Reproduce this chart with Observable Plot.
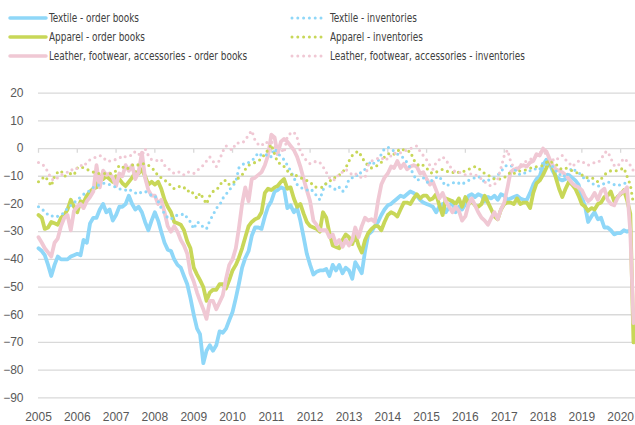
<!DOCTYPE html>
<html><head><meta charset="utf-8">
<script src="https://cdn.jsdelivr.net/npm/d3@7"></script>
<script src="https://cdn.jsdelivr.net/npm/@observablehq/plot@0.6"></script>
<style>
body{margin:0;background:#fff;}
#wrap{width:635px;height:425px;position:relative;overflow:hidden;}
#legend{position:relative;height:70px;font-family:"DejaVu Sans Condensed","DejaVu Sans",sans-serif;}
.item{position:absolute;height:16px;line-height:16px;font-size:12.7px;color:#404040;white-space:nowrap;}
.item svg{position:absolute;top:0;}
.item span{position:absolute;top:0;display:inline-block;transform:scaleX(0.78);transform-origin:0 50%;}
</style></head><body><div id="wrap"><div id="legend"></div><div id="chart"></div></div>
<script>
// Monthly data, Jan 2005 - May 2020
const startYear = 2005;
const textileOrders = [
-36,-37,-38.5,-42,-46,-42,-39,-40,-40,-40,-39,-38.5,
-38,-38.5,-33,-34,-27,-25,-25,-22,-20,-23,-22,-26,
-24,-21,-21,-20,-17,-20,-22,-21,-23,-26.5,-29.5,-26,
-23,-26,-30,-34,-36.5,-37,-40,-42,-43,-46,-49,-54,
-60,-65,-67,-77.5,-73,-71,-73,-71,-66,-66.5,-65,-62,
-59,-54,-49,-43,-39.5,-37,-31.5,-28.5,-28.5,-29,-24.5,-21,
-19,-15.5,-15,-14,-14.5,-21.5,-20.5,-23,-21.5,-26,-32,-38,
-42,-45.5,-44.5,-44,-44,-43.5,-46,-42,-44,-42,-45,-43,
-44,-47,-41,-43,-45,-37,-31,-30,-28,-26.5,-24,-22,
-20.5,-20,-19,-18,-17,-17.5,-16.5,-15.5,-16,-17,-18.5,-19.5,
-20,-20.5,-21,-23,-21,-20,-23,-21,-19,-23,-21,-22,
-20,-17,-16.5,-17.5,-16.5,-17,-19,-17.5,-18,-17,-18.5,-16.5,
-17,-18.5,-18,-17.5,-17,-18,-18.5,-18.5,-16,-13,-11,-10,
-6,-4,-5,-8,-10,-11,-11.5,-11,-9.5,-10.5,-11.5,-13,
-17.5,-21,-26.5,-24.5,-23,-25.5,-25,-28.5,-28.5,-29.5,-31,-30.5,
-30.5,-29.5,-30,-29.5,null];
const apparelOrders = [
-24,-25,-29,-28.5,-26.5,-27,-27.5,-25,-24,-22,-18.5,-21,
-23,-19,-19.5,-17,-15.5,-14.5,-14,-10,-11,-10,-11,-12,
-10,-11,-12.5,-13.5,-12,-10.5,-8.5,-9,-7.5,-10,-13,-12,
-13,-12,-14.5,-18.5,-21,-23,-26.5,-27,-27.5,-29.5,-33.5,-36,
-43,-45.5,-47.5,-50,-55,-52,-51,-51,-49,-49,-50.5,-47.5,
-44,-42,-39.5,-36,-32,-28,-26.5,-25.5,-25,-23,-16,-14.5,
-15,-14,-13.5,-12,-11,-14.5,-14,-18,-21,-20,-23.5,-26.5,
-28,-28.5,-29,-30,-23,-25,-30.5,-35,-35.5,-36,-33,-31,
-32,-34.5,-31,-35,-37.5,-33,-30.5,-29,-28,-28,-29.5,-26.5,
-24,-23,-23.5,-24.5,-22,-19.5,-19.5,-20,-18,-16.5,-18,-17,
-17,-18.5,-18,-16.5,-20.5,-24,-18,-18.5,-19,-20,-18,-21,
-17.5,-20,-19,-20.5,-21,-20,-17,-19.5,-22,-24.5,-25.5,-22,
-20,-19.5,-19.5,-20,-18,-20,-19.5,-19.5,-21.5,-16,-12.5,-11.5,
-9.5,-7,-4.5,-6.5,-10.5,-14.5,-17.5,-14.5,-12,-13,-14.5,-17,
-20,-21,-22.5,-21.5,-22,-20,-19.5,-17.5,-17,-15.5,-19,-17.5,
-16.5,-15,-18.5,-23.5,-70];
const leatherOrders = [
-32,-34,-36,-37.5,-39,-34,-32.5,-28,-25,-24,-29.5,-22.5,
-21,-20,-21.5,-19,-17.5,-15.5,-6,-14,-8,-9.5,-9,-10.5,
-13.5,-9,-10,-6,-8,-6,-11,-8.5,-1.5,-10.5,-15,-17,
-17,-20,-18.5,-23,-28,-30,-28,-30,-33,-35,-38,-45,
-48,-52,-55,-58,-61.5,-55,-55,-58,-55.5,-53,-47,-42,
-40,-36,-29,-20,-14,-19,-11,-10.5,-9.5,-8.5,-6,-2.5,
5,4,-2,2.5,3.5,2.5,1,-0.5,-3,-6.5,-11,-15,
-19,-26,-27.5,-29.5,-29.5,-29.5,-32,-31,-34.5,-33,-35.5,-33,
-35,-33,-28.5,-32,-28,-25,-26,-25.5,-26.5,-19,-13,-10.5,
-9,-6.5,-7,-4.5,-7,-5.5,-7.5,-6.5,-6,-6.5,-9,-8.5,
-11,-13,-12,-15,-18,-16,-19,-21,-23,-21,-22.5,-26,
-24.5,-20,-18,-20.5,-23,-25,-26,-27.5,-25,-23,-25.5,-22,
-19.5,-14,-8.5,-7.5,-7.5,-6.5,-6,-6.5,-5,-4.5,-2,-2.5,
0,-1,-3.5,-6,-7.5,-8,-8.5,-9.5,-11,-12.5,-13.5,-14,
-15,-17.5,-19,-18,-16,-18.5,-15.5,-14.5,-18.5,-20,-20.5,-18,
-16,-15.5,-14,-30,-63];
const textileInventories = [
-21,-22,-22.5,-24,-24.5,-24,-24.5,-24,-23,-21.5,-20.5,-19.5,
-18.5,-17.5,-16.5,-16,-15,-14,-13.5,-13,-12.5,-12.5,-13,-13.5,
-14,-14.5,-15,-15,-14.5,-15.5,-16,-16.5,-15.5,-15.5,-16,-17,
-17,-19,-21.5,-23.5,-25,-25.5,-24.5,-24,-24,-23.5,-25,-26.5,
-29,-26.5,-27,-28.5,-29,-26,-24,-21.5,-20.5,-18,-16.5,-15,
-13.5,-12,-7,-6,-5,-5,-4.5,-3,-1.5,-2.5,-2.5,-2,
-3,0,-1.5,-3,-4,-6,-8,-10.5,-13,-14,-14.5,-15,
-14.5,-15.5,-17,-18.5,-15,-12.5,-13.5,-14,-15,-14,-15.5,-14.5,
-11,-10.5,-9.5,-10,-8,-7.5,-4.5,-6,-5,-4.5,-2,0,
0.5,0,-1,-2,-2.5,-3.5,-5,-7,-9.5,-11.5,-11,-10.5,
-12,-12.5,-11,-10.5,-10,-12,-13.5,-13,-12.5,-12,-12.5,-13,
-12,-11.5,-11,-10.5,-10,-11,-12,-11.5,-11,-10.5,-9.5,-8.5,
-6.5,-6,-6,-7,-8.5,-9.5,-9,-8.5,-8,-8,-7,-7.5,
-5,-5.5,-6,-6.5,-8,-9.5,-9,-10.5,-8.5,-7,-8,-8.5,
-10,-11,-11.5,-12.5,-13,-13.5,-13.5,-12.5,-12,-12.5,-13,-13.5,
-13,-12.5,-12.5,-13,null];
const apparelInventories = [
-12,-11,-10,-11.5,-13.5,-10,-8.5,-8,-10,-9.5,-9,-9.5,
-7,-6.5,-7,-7.5,-8,-8.5,-9,-9,-9,-9,-9,-9,
-8,-6,-6.5,-7.5,-7,-6,-5.5,-6,-5.5,-5.5,-6,-7,
-8,-10,-10.5,-11.5,-12,-13.5,-14.5,-14,-13.5,-14,-15.5,-15,
-16.5,-18,-16,-18,-20,-17,-15.5,-15,-13.5,-11.5,-11.5,-13,
-12.5,-11.5,-10.5,-9.5,-7.5,-6,-5.5,-5,-4.5,-3.5,-2,-0.5,
1.5,-2,-5,-5.5,-6.5,-8,-9.5,-9,-10,-10.5,-11,-11.5,
-12,-13.5,-14,-14,-14,-12.5,-12,-10.5,-10.5,-9.5,-8.5,-7,
-4.5,-2.5,-1.5,-1,-3,-5,-6,-7,-6.5,-6,-5,-3,
-2,-1.5,-2,-1,0,-0.5,-1,-1,-4,-5.5,-6.5,-6,
-7,-8.5,-9,-8.5,-8,-7.5,-8,-8.5,-8.5,-9,-8.5,-8.5,
-8,-7.5,-7,-6.5,-7,-8,-9,-9.5,-10.5,-11,-11,-11,
-10.5,-9.5,-8.5,-9,-8.5,-8,-8,-7.5,-7,-7,-6.5,-6.5,
-6,-5,-4.5,-5,-5.5,-7,-7.5,-7,-7.5,-8,-8.5,-9,
-9.5,-10.5,-10.5,-10.5,-11,-12,-11,-9.5,-8.5,-8,-8,-8,
-7.5,-7,-10,-13,-20];
const leatherInventories = [
-5,-5.5,-6.5,-8.5,-11,-11.5,-10.5,-9.5,-9,-8.5,-7.5,-8,
-7,-6,-6.5,-5,-4,-3.5,-3,-2.5,-3,-4.5,-4.5,-4,
-4,-3.5,-2.5,-3,-2.5,-2.5,-1,-2,-2.5,0,-2.5,-4,
-4,-4.5,-4,-6,-7,-8,-9,-8.5,-8.5,-9.5,-8.5,-8.5,
-9,-8,-7,-6,-4.5,-3,-4.5,-6.5,-4,-1,1,0,
-0.5,2,2,2,3,5,6.5,3,1.5,1,2.5,2,
2.5,1,-1,0,-1.5,4.5,5.5,6,4,-1,-3,-4.5,
-5.5,-5,-4.5,-5,-6.5,-8.5,-10.5,-11.5,-11,-9,-8.5,-7.5,
-8.5,-9.5,-9,-10,-10.5,-10.5,-6,-4.5,-4,-3.5,-4,-3,
-4,-2.5,-1.5,-2,-1.5,-1,-0.5,0,0.5,1,-1,-2.5,
-4,-6,-7.5,-5,-4,-3,-4,-6,-7.5,-8.5,-8.5,-9,
-9.5,-9.5,-9,-9.5,-10,-11,-12,-13,-13.5,-13,-11,-7,
-2.5,-0.5,-4.5,-7,-7,-6,-5,-4.5,-4,-3,-2.5,-1.5,
-1,-2,-4,-4,-4.5,-3,-2.5,-4,-5,-6.5,-5.5,-4.5,
-4.5,-5.5,-6,-5.5,-5,-5,-4,-1.5,-1,-3.5,-6,-6.5,
-5,-3.5,-4.5,-6,-8];

const seriesNames = [
  "Textile - order books", "Apparel - order books", "Leather, footwear, accessories - order books",
  "Textile - inventories", "Apparel - inventories", "Leather, footwear, accessories - inventories"];
const seriesValues = [textileOrders, apparelOrders, leatherOrders, textileInventories, apparelInventories, leatherInventories];
const seriesColors = ["#8fd7f8", "#c8d758", "#f0c8d4", "#8fd7f8", "#c8d758", "#f0c8d4"];
const seriesDotted = [false, false, false, true, true, true];
const yTickValues = [20, 10, 0, -10, -20, -30, -40, -50, -60, -70, -80, -90];
const yearTicks = [2005,2006,2007,2008,2009,2010,2011,2012,2013,2014,2015,2016,2017,2018,2019,2020];

const yearDates = yearTicks.map(y => new Date(Date.UTC(y, 0, 1)));
const rows = seriesValues.map((vals, s) => vals.map((v, i) => ({
  series: seriesNames[s], date: new Date(Date.UTC(startYear, i, 1)), value: v
})).filter(d => d.value != null));

// Legend
const legend = document.getElementById("legend");
const leftX = 8, rightX = 289, rowY = [10, 29, 48];
seriesNames.forEach((name, s) => {
  const col = s < 3 ? 0 : 1, row = s % 3;
  const div = document.createElement("div");
  div.className = "item";
  div.style.left = (col ? rightX : leftX) + "px";
  div.style.top = rowY[row] + "px";
  let sw;
  if (!seriesDotted[s]) {
    sw = `<svg width="40" height="16"><line x1="2" x2="38" y1="8" y2="8" stroke="${seriesColors[s]}" stroke-width="3.5" stroke-linecap="round"/></svg>`;
  } else {
    sw = `<svg width="40" height="16"><line x1="3" x2="37" y1="8" y2="8" stroke="${seriesColors[s]}" stroke-width="3" stroke-linecap="round" stroke-dasharray="0,5.8"/></svg>`;
  }
  div.innerHTML = sw + `<span style="left:41px">${name}</span>`;
  legend.appendChild(div);
});

const font = "'Liberation Sans', Arial, sans-serif";
const marks = [
  Plot.ruleY(yTickValues, {y: d => d, stroke: "#d9d9d9", strokeWidth: 1.3}),
  Plot.ruleX(yearDates, {x: d => d, y1: 0, y2: -1.7, stroke: "#d9d9d9", strokeWidth: 1.3}),
  Plot.axisY({ticks: yTickValues, tickSize: 0, tickPadding: 15, label: null, fontSize: 12}),
  Plot.axisX({ticks: yearDates, tickFormat: d3.utcFormat("%Y"), tickSize: 0, tickPadding: 15, label: null, fontSize: 12})
];
[0, 1, 2, 3, 4, 5].forEach(s => {
  if (seriesDotted[s]) {
    marks.push(Plot.line(rows[s], {x: "date", y: "value", stroke: seriesColors[s], strokeWidth: 3.1,
      strokeDasharray: "0,5.8", strokeLinecap: "round"}));
  } else {
    marks.push(Plot.line(rows[s], {x: "date", y: "value", stroke: seriesColors[s], strokeWidth: 3.8}));
  }
});

const chart = Plot.plot({
  width: 635, height: 355,
  marginLeft: 38, marginRight: 0, marginTop: 22.7, marginBottom: 27.7,
  x: {type: "utc", domain: [new Date(Date.UTC(2005, 0, 1)), new Date(Date.UTC(2020, 4, 20))]},
  y: {domain: [-90, 20]},
  style: {fontFamily: font, fontSize: "12px", color: "#595959", background: "white"},
  marks
});
document.getElementById("chart").appendChild(chart);
</script>
</body></html>
